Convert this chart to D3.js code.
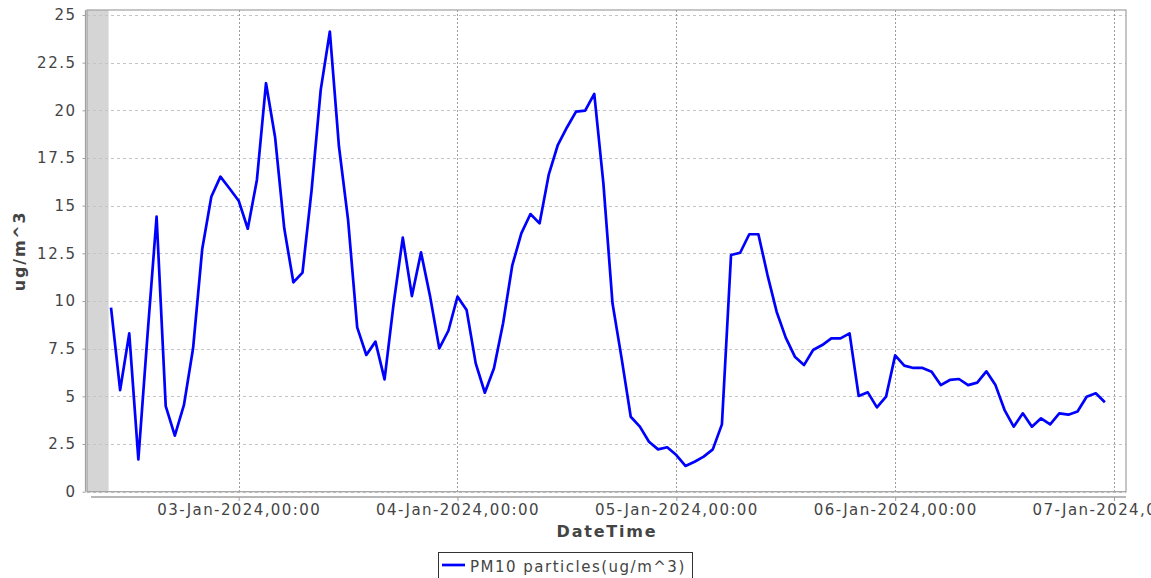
<!DOCTYPE html>
<html>
<head>
<meta charset="utf-8">
<script src="https://cdn.jsdelivr.net/npm/d3@7/dist/d3.min.js"></script>
<style>
    body { margin: 0; background: #ffffff; overflow: hidden; }
    text { font-family: "DejaVu Sans", sans-serif; fill: #444444; }
</style>
</head>
<body>
<svg id="chart"></svg>
<script>
// ---- data ----
const START_TIME = "2024-01-02T10:00:00Z";   // first hourly reading
const PM10_VALUES = [
    9.65, 5.33, 8.30, 1.70, 8.2, 14.42, 4.49, 2.94, 4.55, 7.52,
    12.71, 15.47, 16.52, 15.9, 15.26, 13.79, 16.35, 21.42, 18.57, 13.81,
    10.98, 11.49, 15.82, 21.07, 24.13, 18.1, 14.25, 8.62, 7.17, 7.87,
    5.89, 9.88, 13.32, 10.26, 12.55, 10.23, 7.52, 8.44, 10.23, 9.53,
    6.73, 5.19, 6.47, 8.83, 11.85, 13.55, 14.56, 14.07, 16.61, 18.18,
    19.1, 19.93, 19.98, 20.86, 16.17, 9.88, 6.99, 3.93, 3.41, 2.62,
    2.22, 2.33, 1.92, 1.35, 1.57, 1.84, 2.22, 3.53, 12.41, 12.53,
    13.5, 13.5, 11.36, 9.44, 8.08, 7.08, 6.64, 7.43, 7.69, 8.04,
    8.04, 8.30, 5.02, 5.21, 4.42, 4.98, 7.15, 6.61, 6.49, 6.49,
    6.29, 5.59, 5.86, 5.91, 5.59, 5.72, 6.31, 5.59, 4.28, 3.41,
    4.11, 3.41, 3.85, 3.53, 4.11, 4.04, 4.21, 4.98, 5.16, 4.69
];
const Y_TICKS = [0, 2.5, 5, 7.5, 10, 12.5, 15, 17.5, 20, 22.5, 25];
const Y_MAX = 25.26;
const X_DOMAIN = ["2024-01-02T07:22:00Z", "2024-01-07T01:19:00Z"];
const SHADED_UNTIL = "2024-01-02T09:44:00Z";
const SERIES_NAME = "PM10 particles(ug/m^3)";
const X_LABEL = "DateTime";
const Y_LABEL = "ug/m^3";

// ---- layout ----
const SVG_WIDTH = 1151;
const SVG_HEIGHT = 578;
const PLOT = { left: 87, right: 1126, top: 10, bottom: 491.7 };
const X_AXIS_Y = 497;
const Y_AXIS_X = 85.5;
const LINE_COLOR = "#0000ff";
const LINE_WIDTH = 2.7;
const AXIS_COLOR = "#a0a0a0";
const H_GRID_COLOR = "#c4c4c4";
const V_GRID_COLOR = "#9c9c9c";
const SHADE_COLOR = "#d5d5d5";

const parseTime = d3.utcParse("%Y-%m-%dT%H:%M:%SZ");
const start = parseTime(START_TIME);
const series = PM10_VALUES.map((v, i) => ({ time: d3.utcHour.offset(start, i), value: v }));

const x = d3.scaleUtc().domain(X_DOMAIN.map(parseTime)).range([PLOT.left, PLOT.right]);
const y = d3.scaleLinear().domain([0, Y_MAX]).range([PLOT.bottom, PLOT.top]);
const xTicks = x.ticks(d3.utcDay.every(1));

const svg = d3.select("#chart").attr("width", SVG_WIDTH).attr("height", SVG_HEIGHT);

drawBackground(svg);
drawGrid(svg);
drawLine(svg);
drawAxes(svg);
drawLegend(svg);

/**
 * Plot frame and the shaded strip on the left
 */
function drawBackground(svg) {
    svg.append("rect")
        .attr("x", PLOT.left).attr("y", PLOT.top)
        .attr("width", PLOT.right - PLOT.left).attr("height", PLOT.bottom - PLOT.top)
        .attr("fill", "#ffffff");
    svg.append("rect")
        .attr("x", x.range()[0]).attr("y", PLOT.top)
        .attr("width", x(parseTime(SHADED_UNTIL)) - x.range()[0])
        .attr("height", PLOT.bottom - PLOT.top)
        .attr("fill", SHADE_COLOR);
}

/**
 * Dashed horizontal and dotted vertical grid lines
 */
function drawGrid(svg) {
    svg.append("g").selectAll("line")
        .data(Y_TICKS)
        .join("line")
        .attr("x1", PLOT.left).attr("x2", PLOT.right)
        .attr("y1", d => Math.round(y(d)) + 0.5).attr("y2", d => Math.round(y(d)) + 0.5)
        .attr("stroke", H_GRID_COLOR)
        .attr("stroke-dasharray", "3,3");
    svg.append("g").selectAll("line")
        .data(xTicks)
        .join("line")
        .attr("x1", d => Math.round(x(d)) + 0.5).attr("x2", d => Math.round(x(d)) + 0.5)
        .attr("y1", PLOT.top).attr("y2", PLOT.bottom)
        .attr("stroke", V_GRID_COLOR)
        .attr("stroke-dasharray", "2,2");
}

function drawLine(svg) {
    const line = d3.line().x(d => x(d.time)).y(d => y(d.value));
    svg.append("path")
        .datum(series)
        .attr("d", line)
        .attr("fill", "none")
        .attr("stroke", LINE_COLOR)
        .attr("stroke-width", LINE_WIDTH)
        .attr("stroke-linejoin", "round");
}

/**
 * Outline, axis lines, tick labels and titles
 */
function drawAxes(svg) {
    // plot outline
    svg.append("rect")
        .attr("x", PLOT.left).attr("y", PLOT.top)
        .attr("width", PLOT.right - PLOT.left).attr("height", PLOT.bottom - PLOT.top)
        .attr("fill", "none")
        .attr("stroke", AXIS_COLOR)
        .attr("stroke-width", 1.2);

    // x axis
    const xAxis = svg.append("g").attr("transform", `translate(0,${X_AXIS_Y})`)
        .call(d3.axisBottom(x).tickValues(xTicks).tickSize(4).tickPadding(3)
            .tickFormat(d3.utcFormat("%d-%b-%Y,%H:%M")));
    xAxis.select(".domain").attr("d", `M${PLOT.left + 4},0H${PLOT.right}`)
        .attr("stroke", AXIS_COLOR).attr("stroke-width", 1.6);
    xAxis.selectAll(".tick line").attr("stroke", AXIS_COLOR);
    xAxis.selectAll(".tick text")
        .attr("font-size", 15).attr("letter-spacing", 1.4)
        .attr("fill", "#444444");

    // y axis
    const yAxis = svg.append("g").attr("transform", `translate(${Y_AXIS_X},0)`)
        .call(d3.axisLeft(y).tickValues(Y_TICKS).tickSize(3).tickPadding(6)
            .tickFormat(d => d % 1 ? d.toFixed(1) : d));
    yAxis.select(".domain").attr("d", `M0,${PLOT.top}V${PLOT.bottom}`)
        .attr("stroke", AXIS_COLOR).attr("stroke-width", 1.2);
    yAxis.selectAll(".tick line").attr("stroke", AXIS_COLOR);
    yAxis.selectAll(".tick text")
        .attr("font-size", 15).attr("letter-spacing", 1.5)
        .attr("fill", "#444444");

    svg.append("text")
        .attr("x", 607).attr("y", 537)
        .attr("text-anchor", "middle")
        .attr("font-size", 16).attr("font-weight", "bold").attr("letter-spacing", 1.8)
        .text(X_LABEL);

    svg.append("text")
        .attr("transform", `translate(25,${(PLOT.top + PLOT.bottom) / 2}) rotate(-90)`)
        .attr("text-anchor", "middle")
        .attr("font-size", 16).attr("font-weight", "bold").attr("letter-spacing", 1.8)
        .text(Y_LABEL);
}

function drawLegend(svg) {
    const g = svg.append("g");
    g.append("rect")
        .attr("x", 438.5).attr("y", 552.5)
        .attr("width", 254).attr("height", 32)
        .attr("fill", "#ffffff")
        .attr("stroke", "#333333");
    g.append("line")
        .attr("x1", 442).attr("x2", 465)
        .attr("y1", 565).attr("y2", 565)
        .attr("stroke", LINE_COLOR).attr("stroke-width", LINE_WIDTH);
    g.append("text")
        .attr("x", 470).attr("y", 571.5)
        .attr("font-size", 15).attr("letter-spacing", 1.5)
        .text(SERIES_NAME);
}
</script>
</body>
</html>
